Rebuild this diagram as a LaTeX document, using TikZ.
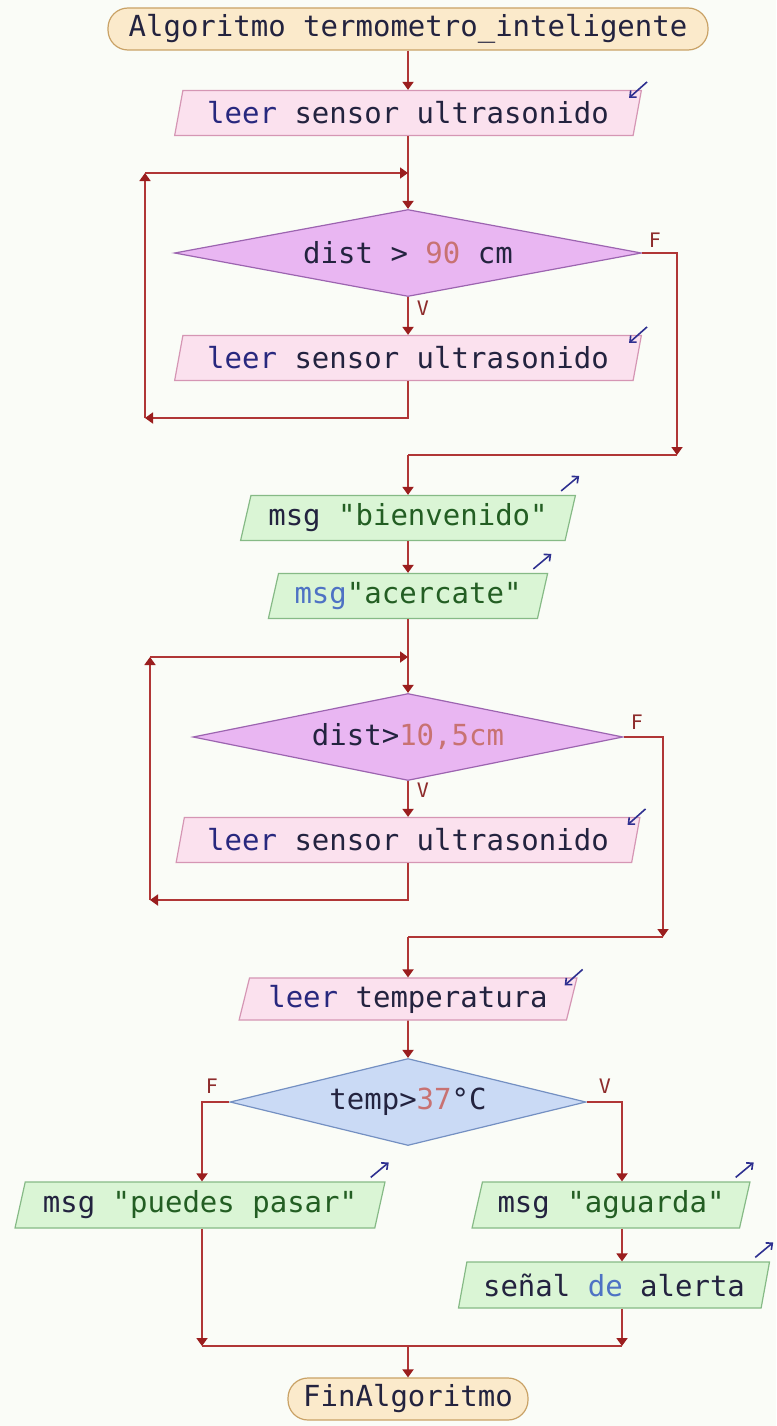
\documentclass[tikz,border=0pt]{standalone}
\usepackage{fontspec}
\setmonofont{DejaVu Sans Mono}
\usetikzlibrary{shapes.geometric,arrows.meta,calc}
\definecolor{bg}{HTML}{FAFCF7}
\definecolor{ln}{HTML}{B03636}
\definecolor{tipc}{HTML}{9A1E1E}
\definecolor{startfill}{HTML}{FBEACB}
\definecolor{startdraw}{HTML}{C9A266}
\definecolor{infill}{HTML}{FBE1EE}
\definecolor{indraw}{HTML}{D596B4}
\definecolor{decfill}{HTML}{E9B6F2}
\definecolor{decdraw}{HTML}{9C64B0}
\definecolor{outfill}{HTML}{DAF5D5}
\definecolor{outdraw}{HTML}{86BA86}
\definecolor{bluefill}{HTML}{CADAF5}
\definecolor{bluedraw}{HTML}{7490C2}
\definecolor{txt}{HTML}{23233F}
\definecolor{kw}{HTML}{28287E}
\definecolor{num}{HTML}{C87272}
\definecolor{str}{HTML}{235E23}
\definecolor{kwb}{HTML}{4E72C4}
\definecolor{lbl}{HTML}{8E2C2C}
\definecolor{icon}{HTML}{2E3090}
\begin{document}
\begin{tikzpicture}[x=1pt,y=-1pt,
  every node/.style={font=\ttfamily\fontsize{29}{34}\selectfont, text=txt, inner sep=0pt},
  term/.style={rectangle, rounded corners=20pt, fill=startfill, draw=startdraw, line width=1.2pt, minimum height=42pt},
  inbox/.style={trapezium, trapezium left angle=72, trapezium right angle=108, trapezium stretches=true,
     fill=infill, draw=indraw, line width=1.2pt, minimum height=45pt},
  outbox/.style={trapezium, trapezium left angle=72, trapezium right angle=108, trapezium stretches=true,
     fill=outfill, draw=outdraw, line width=1.2pt, minimum height=45pt},
  dec/.style={diamond, shape aspect=5.2, fill=decfill, draw=decdraw, line width=1.2pt, minimum height=87pt},
  decb/.style={diamond, shape aspect=4.1, fill=bluefill, draw=bluedraw, line width=1.2pt, minimum height=87pt},
  flow/.style={draw=ln, line width=1.8pt},
  arr/.style={flow, -{Triangle[width=11pt,length=8pt,color=tipc]}},
  lab/.style={font=\ttfamily\fontsize{20}{24}\selectfont, text=lbl},
  iconin/.style={draw=icon, line width=1.6pt, -{Straight Barb[length=5pt,width=9pt]}},
]
\fill[bg] (0,0) rectangle (776,1426);
\useasboundingbox (0,0) rectangle (776,1426);

% nodes
\node[term, minimum width=600pt] (start) at (408,29) {Algoritmo termometro\_inteligente};
\node[inbox, minimum width=468pt] (in1) at (408,113) {\textcolor{kw}{leer} sensor ultrasonido};
\node[dec, minimum width=467pt] (d1) at (408,253) {dist > \textcolor{num}{90} cm};
\node[inbox, minimum width=468pt] (in2) at (408,358) {\textcolor{kw}{leer} sensor ultrasonido};
\node[outbox, minimum width=335pt] (out1) at (408,518) {msg \textcolor{str}{"bienvenido"}};
\node[outbox, minimum width=280pt] (out2) at (408,596) {\textcolor{kwb}{msg}\textcolor{str}{"acercate"}};
\node[dec, minimum width=430pt, shape aspect=4.9] (d2) at (408,737) {dist>\textcolor{num}{10,5cm}};
\node[inbox, minimum width=465pt] (in3) at (408,840) {\textcolor{kw}{leer} sensor ultrasonido};
\node[inbox, minimum width=338pt, minimum height=42pt] (in4) at (408,999) {\textcolor{kw}{leer} temperatura};
\node[decb, minimum width=356pt] (d3) at (408,1102) {temp>\textcolor{num}{37}°C};
\node[outbox, minimum width=370pt, minimum height=46pt] (outP) at (200,1205) {msg \textcolor{str}{"puedes pasar"}};
\node[outbox, minimum width=278pt, minimum height=46pt] (outA) at (611,1205) {msg \textcolor{str}{"aguarda"}};
\node[outbox, minimum width=312pt, minimum height=46pt] (outS) at (614,1285) {señal \textcolor{kwb}{de} alerta};
\node[term, minimum width=240pt] (fin) at (408,1399) {FinAlgoritmo};

% icons
\foreach \n in {in1,in2,in3,in4}{
  \draw[iconin] ($(\n.top right corner)+(5,-8)$) -- ($(\n.top right corner)+(-13,8)$);
}
\foreach \n in {out1,out2,outP,outA,outS}{
  \draw[iconin] ($(\n.top right corner)+(-15,-4)$) -- ($(\n.top right corner)+(3,-19)$);
}

% coordinates
\coordinate (j1) at (408,173);
\coordinate (l1t) at (145,173);
\coordinate (l1b) at (145,418);
\coordinate (f1) at (677,253);
\coordinate (f1b) at (677,455);
\coordinate (m1) at (408,455);
\coordinate (j2) at (408,657);
\coordinate (l2t) at (150,657);
\coordinate (l2b) at (150,900);
\coordinate (f2) at (663,737);
\coordinate (f2b) at (663,937);
\coordinate (m2) at (408,937);
\coordinate (fl) at (202,1102);
\coordinate (vr) at (622,1102);
\coordinate (mL) at (202,1346);
\coordinate (mR) at (622,1346);
\coordinate (mC) at (408,1346);

% connectors
\draw[arr] (start) -- (in1);
\draw[flow] (in1) -- (j1);
\draw[arr] (j1) -- (d1.north);
\draw[arr] (d1.south) -- (in2);
\draw[arr] (in2.south) |- (l1b);
\draw[arr] (l1b) -- (l1t);
\draw[arr] (l1t) -- (j1);
\draw[arr] (d1.east) -- (f1) -- (f1b);
\draw[flow] (f1b) -- (m1);
\draw[arr] (m1) -- (out1);
\draw[arr] (out1) -- (out2);
\draw[flow] (out2) -- (j2);
\draw[arr] (j2) -- (d2.north);
\draw[arr] (d2.south) -- (in3);
\draw[arr] (in3.south) |- (l2b);
\draw[arr] (l2b) -- (l2t);
\draw[arr] (l2t) -- (j2);
\draw[arr] (d2.east) -- (f2) -- (f2b);
\draw[flow] (f2b) -- (m2);
\draw[arr] (m2) -- (in4);
\draw[arr] (in4) -- (d3.north);
\draw[arr] (d3.west) -- (fl) -- (fl |- outP.north);
\draw[arr] (d3.east) -- (vr) -- (vr |- outA.north);
\draw[arr] (outA.south -| vr) -- (vr |- outS.north);
\draw[arr] (fl |- outP.south) -- (mL);
\draw[arr] (vr |- outS.south) -- (mR);
\draw[flow] (mL) -- (mR);
\draw[arr] (mC) -- (fin);

% labels
\node[lab] (v1) at (423,308) {V};
\node[lab] (fa) at (655,240) {F};
\node[lab] (v2) at (423,790) {V};
\node[lab] (fb) at (637,722) {F};
\node[lab] (fc) at (212,1086) {F};
\node[lab] (vc) at (605,1086) {V};
\end{tikzpicture}
\end{document}
